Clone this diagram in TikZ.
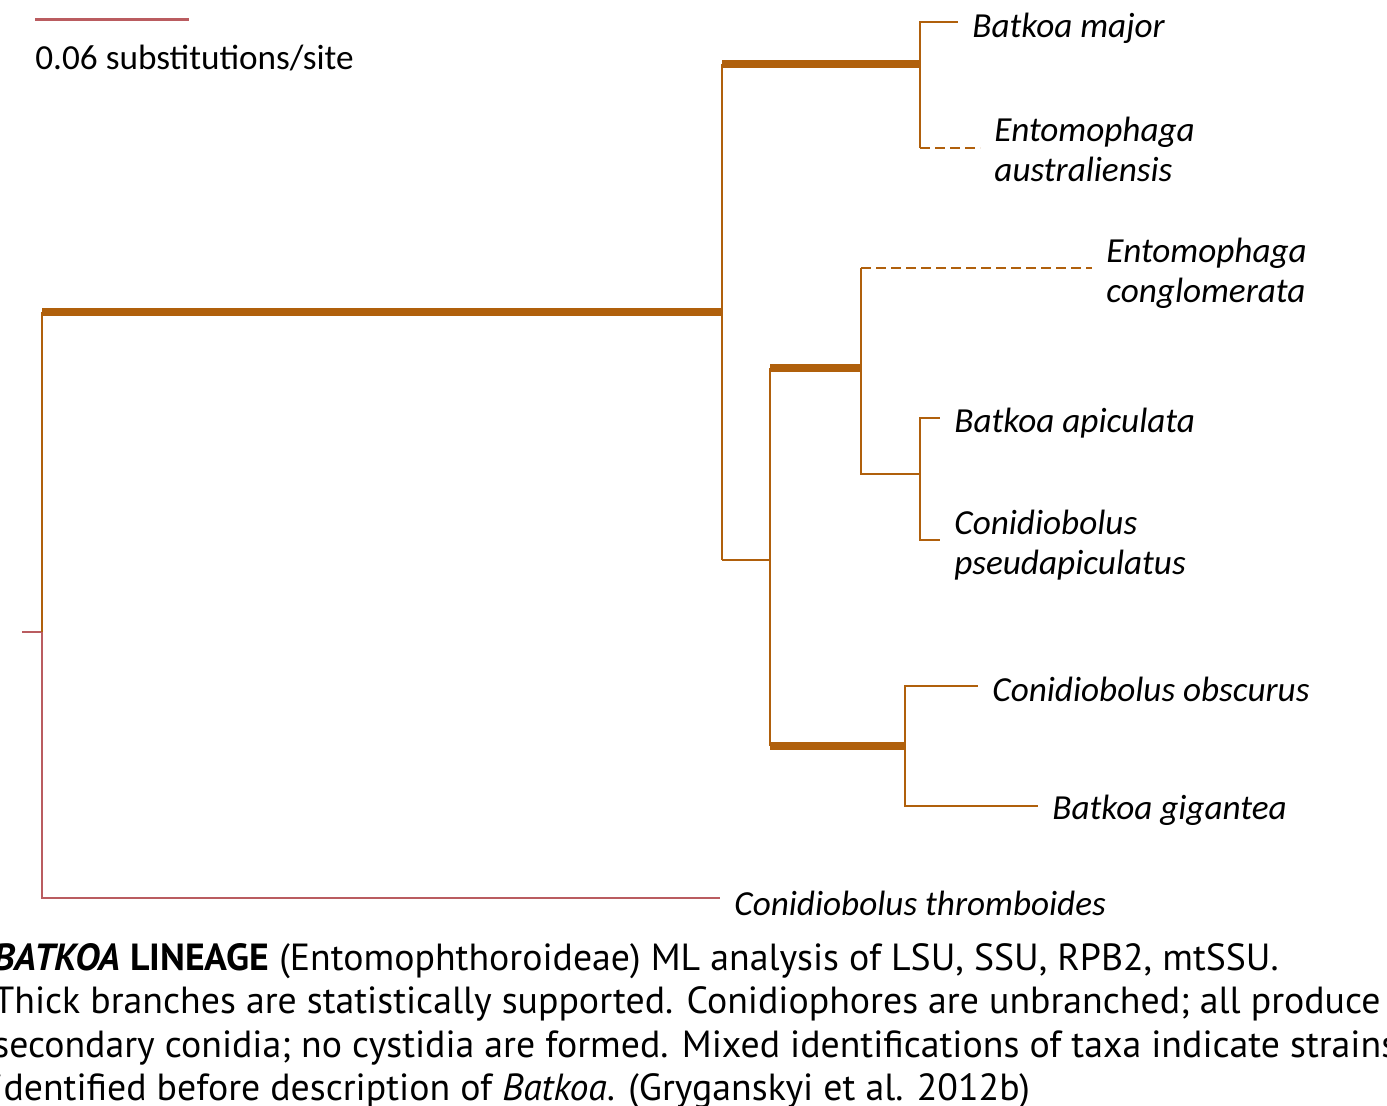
\documentclass[tikz,border=0pt]{standalone}
\usepackage{fontspec}
\setmainfont{Carlito}
\newfontfamily\capfont{PT Sans}
\usetikzlibrary{positioning}
\definecolor{branchorange}{RGB}{176,96,12}
\definecolor{branchred}{RGB}{186,92,96}
\tikzset{
  thinbr/.style={draw=branchorange, line width=1.2pt},
  thickbr/.style={draw=branchorange, line width=4pt},
  dashbr/.style={draw=branchorange, line width=1.2pt, dash pattern=on 5pt off 2.5pt},
  outbr/.style={draw=branchred, line width=1.1pt},
  taxon/.style={anchor=west, inner xsep=7pt, inner ysep=0pt, align=left,
    font=\fontsize{17.6}{20}\selectfont\itshape},
  capline/.style={anchor=base west, inner sep=0pt,
    font=\capfont\fontsize{18.9}{22}\selectfont}
}

\begin{document}
\begin{tikzpicture}[x=0.5pt, y=-0.5pt]
  \useasboundingbox (0,0) rectangle (1387,1106);
  \clip (0,0) rectangle (1387,1106);

  % scale bar
  \coordinate (sbl) at (35,20);
  \coordinate (sbr) at (189,20);
  \draw[outbr, line width=1.5pt] (sbl) -- (sbr);
  \node[anchor=base west, inner sep=0pt, font=\fontsize{17.6}{20}\selectfont] (sblab) at (35,70) {0.06 substitutions/site};

  % internal nodes
  \coordinate (root) at (42,632);
  \coordinate (stub) at (22,632);
  \coordinate (nA) at (722,312);
  \coordinate (nB) at (920,64);
  \coordinate (nC) at (770,560);
  \coordinate (nD) at (861,368);
  \coordinate (nE) at (920,474);
  \coordinate (nF) at (905,746);

  % branch tips
  \coordinate (tbmaj) at (958,22);
  \coordinate (teaus) at (980,148);
  \coordinate (tecon) at (1092,268);
  \coordinate (tbapi) at (940,418);
  \coordinate (tcpse) at (940,540);
  \coordinate (tcobs) at (978,686);
  \coordinate (tbgig) at (1038,806);
  \coordinate (tcthr) at (720,898);

  % taxa
  \node[taxon] (bmaj) at (958,28) {Batkoa major};
  \node[taxon] (eaus) at (980,149) {Entomophaga\\australiensis};
  \node[taxon] (econ) at (1092,273) {Entomophaga\\conglomerata};
  \node[taxon] (bapi) at (940,423) {Batkoa apiculata};
  \node[taxon] (cpse) at (940,545) {Conidiobolus\\pseudapiculatus};
  \node[taxon] (cobs) at (978,689) {Conidiobolus obscurus};
  \node[taxon] (bgig) at (1038,810) {Batkoa gigantea};
  \node[taxon] (cthr) at (720,903) {Conidiobolus thromboides};

  \draw[outbr] (stub) -- (root);
  \draw[outbr] (root) |- (tcthr);
  \draw[thinbr] (root) -- (root |- nA);
  \draw[thickbr] (root |- nA) -- (nA);

  \draw[thinbr] (nA |- nB) -- (nA |- nC);
  \draw[thickbr] (nA |- nB) -- (nB);
  \draw[thinbr] (nA |- nC) -- (nC);

  \draw[thinbr] (nB) |- (tbmaj);
  \draw[thinbr] (nB) -- (nB |- teaus);
  \draw[dashbr] (nB |- teaus) -- (teaus);

  \draw[thinbr] (nC |- nD) -- (nC |- nF);
  \draw[thickbr] (nC |- nD) -- (nD);
  \draw[thickbr] (nC |- nF) -- (nF);

  \draw[thinbr] (nD) -- (nD |- tecon);
  \draw[dashbr] (nD |- tecon) -- (tecon);
  \draw[thinbr] (nD) -- (nD |- nE) -- (nE);
  \draw[thinbr] (nE) |- (tbapi);
  \draw[thinbr] (nE) |- (tcpse);

  \draw[thinbr] (nF) |- (tcobs);
  \draw[thinbr] (nF) |- (tbgig);

  % caption
  \node[capline] (cap1) at (-7,970) {\textbf{\textit{BATKOA} LINEAGE} (Entomophthoroideae) ML analysis of LSU, SSU, RPB2, mtSSU.};
  \node[capline] (cap2) at (-7,1013) {Thick branches are statistically supported. Conidiophores are unbranched; all produce};
  \node[capline] (cap3) at (-7,1057) {secondary conidia; no cystidia are formed. Mixed identifications of taxa indicate strains};
  \node[capline] (cap4) at (-7,1100) {identified before description of \textit{Batkoa}. (Gryganskyi et al. 2012b)};
\end{tikzpicture}
\end{document}
